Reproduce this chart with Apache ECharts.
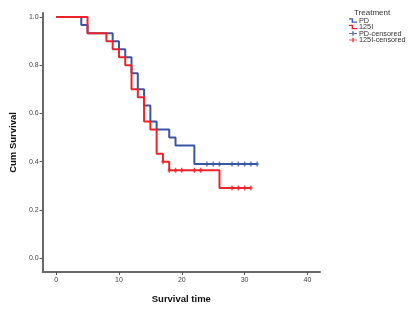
<!DOCTYPE html>
<html>
<head>
<meta charset="utf-8">
<script src="https://cdn.jsdelivr.net/npm/echarts@6/dist/echarts.min.js"></script>
<style>
html, body { margin: 0; padding: 0; background: #fff; }
#km { width: 408px; height: 309px; }
</style>
</head>
<body>
<div id="km"></div>
<script>
//----------------------Data----------------------
// step points (time, cum survival)
let pd_time  = [0, 4, 5, 9, 10, 11, 12, 13, 14, 15, 16, 18, 19, 22, 32];
let pd_surv  = [1, 0.967, 0.933, 0.9, 0.867, 0.833, 0.767, 0.7, 0.633, 0.567, 0.533, 0.5, 0.467, 0.39, 0.39];
let i125_time = [0, 5, 8, 9, 10, 11, 12, 13, 14, 15, 16, 17, 18, 26, 31];
let i125_surv = [1, 0.933, 0.9, 0.867, 0.833, 0.8, 0.7, 0.667, 0.567, 0.533, 0.433, 0.4, 0.364, 0.291, 0.291];
// censored times
let pd_cens   = [24, 25, 26, 28, 29, 30, 31, 32];
let i125_cens = [17, 18, 19, 20, 22, 23, 28, 29, 30, 31];
// axis ticks
let x_ticks = [0, 10, 20, 30, 40];
let y_ticks = [0, 0.2, 0.4, 0.6, 0.8, 1.0];

let col_pd = "#3b55a6";
let col_i125 = "#ee2329";

function survAt(times, surv, t) {
    let s = surv[0];
    for (let i = 0; i < times.length; i++) {
        if (times[i] <= t) s = surv[i];
    }
    return s;
}
function zip(a, b) { return a.map((v, i) => [v, b[i]]); }

let cross = 'path://M-0.6,-3h1.2v6h-1.2z M-1.3,-1.3h2.6v2.6h-2.6z';
let stepIcon = 'path://M0,0h6v5h6v2h-8v-5h-4z';
let crossIcon = 'path://M0,2h10v1.5h-10z M4,0h2v5.5h-2z';

let km_chart = echarts.init(document.getElementById("km"));
let axis_txt = {color: "#444", fontSize: 7, fontFamily: "Liberation Sans"};

let km_option = {
    animation: false,
    backgroundColor: "#fff",
    title: {
        text: "Treatment", left: 354, top: 9, padding: 0,
        textStyle: {fontSize: 8, fontWeight: "normal", color: "#333", fontFamily: "Liberation Sans"}
    },
    legend: {
        orient: "vertical", left: 349, top: 17, padding: 0,
        itemWidth: 8, itemHeight: 5, itemGap: -0.5,
        textStyle: {fontSize: 7.3, lineHeight: 5, color: "#333", fontFamily: "Liberation Sans", padding: [0, 0, 0, -3]},
        data: [
            {name: "PD", icon: stepIcon},
            {name: "125I", icon: stepIcon},
            {name: "PD-censored", icon: crossIcon},
            {name: "125I-censored", icon: crossIcon}
        ]
    },
    grid: {left: 33, right: 88, top: 13, bottom: 37},
    xAxis: {
        type: "value", min: -2.15, max: 42,
        name: "Survival time", nameLocation: "middle", nameGap: 22,
        nameTextStyle: {fontSize: 9.5, fontWeight: "bold", color: "#111", fontFamily: "Liberation Sans"},
        splitLine: {show: false},
        axisLine: {onZero: false, lineStyle: {color: "#6a6a6a", width: 2}},
        axisTick: {customValues: x_ticks, length: 3, lineStyle: {color: "#555", width: 1}},
        axisLabel: Object.assign({customValues: x_ticks, margin: 5}, axis_txt)
    },
    yAxis: {
        type: "value", min: -0.058, max: 1.017,
        name: "Cum Survival", nameLocation: "middle", nameGap: 22,
        nameTextStyle: {fontSize: 9.5, fontWeight: "bold", color: "#111", fontFamily: "Liberation Sans"},
        splitLine: {show: false},
        axisLine: {onZero: false, lineStyle: {color: "#6a6a6a", width: 2}},
        axisTick: {customValues: y_ticks, length: 3, lineStyle: {color: "#555", width: 1}},
        axisLabel: Object.assign({customValues: y_ticks, margin: 4, formatter: v => v.toFixed(1)}, axis_txt)
    },
    series: [
        {
            name: "PD", type: "line", step: "end", symbol: "none",
            data: zip(pd_time, pd_surv), color: col_pd,
            lineStyle: {color: col_pd, width: 2}
        },
        {
            name: "125I", type: "line", step: "end", symbol: "none",
            data: zip(i125_time, i125_surv), color: col_i125,
            lineStyle: {color: col_i125, width: 2}
        },
        {
            name: "PD-censored", type: "scatter", symbol: cross, symbolSize: [3, 5],
            data: pd_cens.map(t => [t, survAt(pd_time, pd_surv, t)]),
            itemStyle: {color: col_pd}
        },
        {
            name: "125I-censored", type: "scatter", symbol: cross, symbolSize: [3, 5],
            data: i125_cens.map(t => [t, survAt(i125_time, i125_surv, t)]),
            itemStyle: {color: col_i125}
        }
    ]
};
km_chart.setOption(km_option, true);
</script>
</body>
</html>
